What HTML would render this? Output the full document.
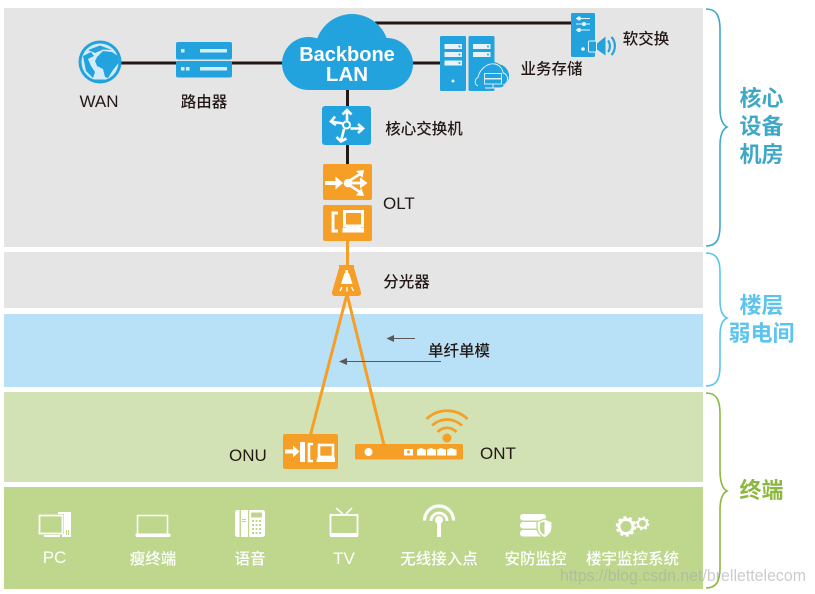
<!DOCTYPE html>
<html><head><meta charset="utf-8">
<style>
html,body{margin:0;padding:0;background:#fff}
svg{display:block}
text{font-family:"Liberation Sans","Noto Sans CJK SC",sans-serif}
.l{font-size:17px;fill:#231815}
.c{font-size:15.5px;fill:#231815;font-weight:500;text-anchor:middle}
.w{font-size:15.5px;fill:#fff;font-weight:500;text-anchor:middle}
.b{font-size:22px;font-weight:700;text-anchor:middle}
</style></head><body>
<svg width="815" height="594" viewBox="0 0 815 594" xmlns="http://www.w3.org/2000/svg">
<rect width="815" height="594" fill="#fff"/>
<!-- bands -->
<rect x="4" y="8" width="699" height="239" fill="#e5e5e5"/>
<rect x="4" y="252" width="699" height="56" fill="#e5e5e5"/>
<rect x="4" y="314" width="699" height="73" fill="#b8e0f7"/>
<rect x="4" y="392" width="699" height="90" fill="#d3e2b4"/>
<rect x="4" y="487" width="699" height="102" fill="#bed78d"/>

<!-- braces -->
<g fill="none" stroke-width="1.6">
<path stroke="#3fa8c6" d="M706 9C716 9 720 15 720 30V108C720 120 723 125 727 127C723 129 720 134 720 146V225C720 240 716 246 706 246"/>
<path stroke="#5cc4ee" d="M706 253C716 253 720 259 720 272V300C720 312 723 316 727 318C723 320 720 324 720 336V366C720 380 716 386 706 386"/>
<path stroke="#8db83f" d="M706 393C716 393 720 399 720 414V470C720 484 723 489 727 491C723 493 720 498 720 510V567C720 582 716 588 706 588"/>
</g>
<text class="b" x="761.5" y="106" fill="#3fa8c6">核心</text>
<text class="b" x="761.5" y="134" fill="#3fa8c6">设备</text>
<text class="b" x="761.5" y="162" fill="#3fa8c6">机房</text>
<text class="b" x="761.5" y="313" fill="#5cc4ee">楼层</text>
<text class="b" x="761.5" y="341" fill="#5cc4ee">弱电间</text>
<text class="b" x="761.5" y="498" fill="#8db83f">终端</text>

<!-- black links -->
<g stroke="#231815" stroke-width="3" fill="none">
<path d="M120 63H284"/>
<path d="M347.5 88V166"/>
<path d="M410 63H442"/>
<path d="M375 23H572"/>
</g>

<!-- orange links -->
<g stroke="#f59f27" stroke-width="3" fill="none">
<path d="M347.5 240V268"/>
<path d="M346.5 296L310.5 435"/>
<path d="M347.5 296L384 445"/>
</g>

<!-- WAN globe -->
<circle cx="100" cy="62" r="21.5" fill="#23a3de"/>
<circle cx="100" cy="62" r="18.5" fill="#d4ecf8"/>
<g fill="#23a3de">
<path d="M97 57L103 51L112 52L118 56L118.500 63L113 70L108 78L105 77L103 69L97 66L95 61Z"/>
<path d="M88 50L100 45.500L112 50L103 49.500L95 53Z"/>
<path d="M83 56L91 52L94 56L88 59L91 66L95 72L93 78L86 71Z"/>
<path d="M92 79.500L106 79.500L100 81Z"/>
</g>

<!-- router -->
<rect x="176" y="42" width="56" height="17.5" rx="2" fill="#23a3de"/>
<rect x="176" y="61" width="56" height="16.5" rx="2" fill="#23a3de"/>
<g fill="#d8ecf6">
<rect x="181" y="49" width="3.5" height="3.5"/>
<rect x="200" y="49" width="27" height="3.5"/>
<rect x="181" y="67" width="3.5" height="3.5"/>
<rect x="186" y="67" width="3.5" height="3.5"/>
<rect x="200" y="67" width="27" height="3.5"/>
</g>

<!-- cloud -->
<g fill="#23a3de">
<circle cx="308.5" cy="63.5" r="26.5"/>
<circle cx="387" cy="64" r="26"/>
<circle cx="352" cy="51" r="37"/>
<rect x="308" y="50" width="80" height="40"/>
</g>
<text x="347" y="61" font-size="20" font-weight="700" fill="#fff" text-anchor="middle">Backbone</text>
<text x="347" y="81" font-size="20.5" font-weight="700" fill="#fff" text-anchor="middle">LAN</text>

<!-- core switch -->
<rect x="322" y="106" width="49" height="39" rx="3" fill="#23a3de"/>
<g stroke="#fff" stroke-width="2.6" fill="none">
<circle cx="346.500" cy="125" r="3.500" stroke-width="2"/>
<path d="M347 121V110M342.500 114.500L347 110L351.500 114.500"/>
<path d="M344 129L341 141M336.500 137L341 141.500L346.500 138.500"/>
<path d="M350.500 128.500H362M358 124L363 128.500L358 133"/>
<path d="M343 123.500L331 121.500M335 116.500L331 121.500L336 125"/>
</g>

<!-- OLT -->
<rect x="323" y="164" width="49" height="36" rx="2" fill="#f59f27"/>
<rect x="323" y="205" width="49" height="36" rx="2" fill="#f59f27"/>
<rect x="325" y="181" width="12" height="4" fill="#fff"/>
<path d="M335.500 176.500L343 183L335.500 189.500Z" fill="#fff"/>
<circle cx="348" cy="183" r="4.300" fill="#fff"/>
<g stroke="#fff" stroke-width="2.800" fill="none">
<path d="M349 181L360 174"/>
<path d="M350 183H362"/>
<path d="M349 185L360 192"/>
</g>
<g fill="#fff">
<path d="M356 171L364 170L362.500 178Z"/>
<path d="M360 177.500L367.500 183L360 188.500Z"/>
<path d="M356 195.500L364 196L361.500 188Z"/>
</g>
<g fill="none" stroke="#fff" stroke-width="3">
<path d="M338 213H333V231H338"/>
<rect x="344.500" y="211.500" width="18" height="14.500"/>
</g>
<path fill="#fff" d="M346 226H361V228H364V232.500H342.500V228H346Z"/>

<!-- servers -->
<rect x="440" y="36" width="26" height="55" rx="1.500" fill="#23a3de"/>
<rect x="468.500" y="36" width="26" height="55" rx="1.500" fill="#23a3de"/>
<g fill="#e6f3fa">
<rect x="444.500" y="44" width="17.500" height="5"/>
<rect x="444.500" y="52" width="17.500" height="5"/>
<rect x="444.500" y="60.500" width="17.500" height="5"/>
<rect x="473" y="44" width="17.500" height="5"/>
<rect x="473" y="52" width="17.500" height="5"/>
<circle cx="453" cy="81" r="1.500"/>
</g>
<g fill="#23a3de">
<circle cx="459.500" cy="46.500" r="1"/><circle cx="459.500" cy="54.500" r="1"/><circle cx="459.500" cy="63" r="1"/>
<circle cx="488" cy="46.500" r="1"/><circle cx="488" cy="54.500" r="1"/>
<circle cx="484" cy="76" r="11"/><circle cx="497" cy="76" r="12"/><circle cx="504" cy="75" r="5"/>
<circle cx="493" cy="72" r="10"/>
</g>
<g fill="none" stroke="#e6f3fa" stroke-width="0.9">
<path d="M478 86C474 84 474.500 79 478 77.500C479 71 486 62.500 495 64C500 65 503 70 503 73C509 74 509 84 503 85"/>
<rect x="484.500" y="73.500" width="17" height="5"/>
<rect x="484.500" y="79" width="17" height="5"/>
<path d="M493 84V88M485 88H501"/>
</g>

<!-- softswitch -->
<rect x="571" y="13" width="24" height="44" rx="1.500" fill="#23a3de"/>
<g stroke="#e6f3fa" stroke-width="1" fill="#e6f3fa">
<path d="M576 18.500H590M576 24H590M576 30H590" fill="none"/>
<circle cx="579" cy="18.500" r="1.500"/><circle cx="584" cy="24" r="1.500"/><circle cx="579" cy="30" r="1.500"/>
<circle cx="583" cy="49" r="1.300"/>
</g>
<rect x="588.500" y="41" width="8" height="11" rx="1" fill="#23a3de" stroke="#e6f3fa" stroke-width="1"/>
<path fill="#23a3de" d="M597 43.500L605.500 36.500V55.500L597 49.500Z"/>
<path fill="none" stroke="#23a3de" stroke-width="2.200" d="M608 40.500C610.500 43.500 610.500 49 608 52M611.500 37C616 42 616 50 611.500 55"/>

<!-- splitter -->
<path fill="#f59f27" d="M339 265H354V268L361 292Q361.500 296 358 296H335Q331.500 296 332 292L339 268Z"/>
<g fill="#fff">
<rect x="345.500" y="270" width="2.500" height="4"/>
<path d="M344.500 273H349L352.500 284H341Z"/>
</g>
<g stroke="#fff" stroke-width="1.300"><path d="M342 287L340 291M347 287V291.500M351.500 287L353.500 291"/></g>

<!-- arrows -->
<g stroke="#595757" stroke-width="1" fill="#595757">
<path d="M393 338.500H415" fill="none"/>
<path d="M386.500 338.500L394 335V342Z" stroke="none"/>
<path d="M346 361.500H441" fill="none"/>
<path d="M339 361.500L347 358V365Z" stroke="none"/>
</g>

<!-- ONU -->
<rect x="283" y="434" width="55" height="35" rx="2" fill="#f59f27"/>
<g fill="#fff">
<rect x="285" y="449.500" width="9" height="4"/>
<path d="M293 445.500L299.500 451.500L293 457.500Z"/>
<rect x="300" y="442" width="5" height="20"/>
<path d="M317 457.500H335V462H316.500Z"/>
</g>
<g fill="none" stroke="#fff" stroke-width="2.600">
<path d="M313 444H309V461H313"/>
<rect x="319" y="445" width="14" height="12"/>
</g>

<!-- ONT -->
<rect x="355" y="444" width="108" height="15.500" rx="1.500" fill="#f59f27"/>
<circle cx="368.500" cy="452" r="4" fill="#fff"/>
<rect x="404" y="449" width="9" height="6.500" fill="#fff"/>
<circle cx="408.500" cy="452" r="1.500" fill="#f59f27"/>
<g fill="#fff">
<path d="M417 449.500L421 448L425 449.500H426V455.500H417Z"/>
<path d="M427 449.500L431 448L435 449.500H436V455.500H427Z"/>
<path d="M437 449.500L441 448L445 449.500H446V455.500H437Z"/>
<path d="M447 449.500L451 448L455 449.500H456.500V455.500H447Z"/>
</g>
<!-- wifi -->
<circle cx="447" cy="438" r="4.500" fill="#f59f27"/>
<g fill="none" stroke="#f59f27" stroke-width="2.800">
<path d="M437.500 432C443 426.500 451 426.500 456.500 432"/>
<path d="M432 425.500C441 417.500 453 417.500 462 425.500"/>
<path d="M426.500 419C438 408 456 408 467.500 419"/>
</g>

<!-- bottom icons -->
<!-- PC -->
<g fill="none" stroke="#fff" stroke-width="1.800">
<rect x="39.500" y="515.500" width="23" height="18"/>
</g>
<g fill="#fff">
<path d="M44 535H60V537H44Z"/>
<path d="M58 512H71V537H62V534H64V514H58Z"/>
<rect x="65.500" y="516" width="4" height="1"/><rect x="65.500" y="519" width="4" height="1"/>
</g>
<rect x="66" y="530" width="1" height="5" fill="#bed78d"/><rect x="68" y="530" width="1" height="5" fill="#bed78d"/>
<!-- laptop -->
<rect x="137.500" y="515.500" width="30" height="19" fill="none" stroke="#fff" stroke-width="1.500"/>
<rect x="135.500" y="533.500" width="35" height="3.500" rx="1.500" fill="#fff"/>
<!-- phone -->
<rect x="235" y="510" width="30" height="27" rx="2.500" fill="#fff"/>
<rect x="239.500" y="509" width="1.500" height="29" fill="#bed78d"/>
<rect x="248" y="510" width="1.200" height="27" fill="#bed78d"/>
<rect x="251" y="512.500" width="11" height="5" rx="1" fill="#bed78d"/>
<rect x="242" y="519" width="4" height="1" fill="#bed78d"/><rect x="242" y="521" width="4" height="1" fill="#bed78d"/>
<g fill="#bed78d">
<rect x="252" y="520" width="2" height="2"/><rect x="255.500" y="520" width="2" height="2"/><rect x="259" y="520" width="2" height="2"/>
<rect x="252" y="524" width="2" height="2"/><rect x="255.500" y="524" width="2" height="2"/><rect x="259" y="524" width="2" height="2"/>
<rect x="252" y="528" width="2" height="2"/><rect x="255.500" y="528" width="2" height="2"/><rect x="259" y="528" width="2" height="2"/>
<rect x="252" y="532" width="2" height="2"/><rect x="255.500" y="532" width="2" height="2"/><rect x="259" y="532" width="2" height="2"/>
</g>
<!-- TV -->
<path d="M336 508L343 514M352 508L346 514" stroke="#fff" stroke-width="1.500"/>
<rect x="330.500" y="515" width="27" height="20" fill="none" stroke="#fff" stroke-width="1.800"/>
<rect x="330" y="533" width="28" height="4" fill="#fff"/>
<!-- wireless -->
<path d="M424.500 520.500A14.500 14.500 0 0 1 453.500 520.500" fill="none" stroke="#fff" stroke-width="3.200"/>
<path d="M431 521A8 8 0 0 1 447 521" fill="none" stroke="#fff" stroke-width="2.800"/>
<circle cx="439" cy="520" r="4" fill="#fff"/>
<rect x="437" y="520" width="4" height="17" fill="#fff"/>
<!-- security -->
<g fill="#fff">
<rect x="520" y="514" width="26" height="6.500" rx="3"/>
<rect x="520" y="522" width="26" height="6.500" rx="3"/>
<rect x="520" y="530" width="24" height="6.500" rx="3"/>
<path d="M537 522L544.500 519L552 522V528C552 533 548 536 544.500 538C541 536 537 533 537 528Z" stroke="#bed78d" stroke-width="1.200"/>
<path d="M540 523L544.500 521.500V535C541 533 540 531 540 528Z" fill="#bed78d"/>
</g>
<!-- gears -->
<g fill="none" stroke="#fff">
<circle cx="626" cy="526.500" r="7" stroke-width="3"/>
<circle cx="626" cy="526.500" r="9" stroke-width="2.500" stroke-dasharray="3 2.650"/>
<circle cx="642.500" cy="523.500" r="4.500" stroke-width="2"/>
<circle cx="642.500" cy="523.500" r="6" stroke-width="1.800" stroke-dasharray="2.200 2.510"/>
</g>

<!-- labels -->
<text class="l" x="99" y="107" text-anchor="middle">WAN</text>
<text class="c" x="204" y="107">路由器</text>
<text class="c" x="424" y="134">核心交换机</text>
<text class="l" x="383" y="209">OLT</text>
<text class="c" x="646" y="44">软交换</text>
<text class="c" x="551.500" y="74">业务存储</text>
<text class="c" x="406.500" y="287">分光器</text>
<text class="c" x="459" y="356">单纤单模</text>
<text class="l" x="229" y="461" font-size="16">ONU</text>
<text class="l" x="480" y="459" font-size="16">ONT</text>

<text x="54.500" y="563" font-size="17" fill="#fff" text-anchor="middle">PC</text>
<text class="w" x="153" y="564">瘦终端</text>
<text class="w" x="250" y="564">语音</text>
<text x="344" y="564" font-size="17" fill="#fff" text-anchor="middle">TV</text>
<text class="w" x="439" y="564">无线接入点</text>
<text class="w" x="535.500" y="564">安防监控</text>
<text class="w" x="632.500" y="564">楼宇监控系统</text>

<text x="560" y="581" font-size="17" fill="#aaa" fill-opacity="0.6" textLength="246" lengthAdjust="spacingAndGlyphs">https://blog.csdn.net/brellettelecom</text>
</svg>
</body></html>
